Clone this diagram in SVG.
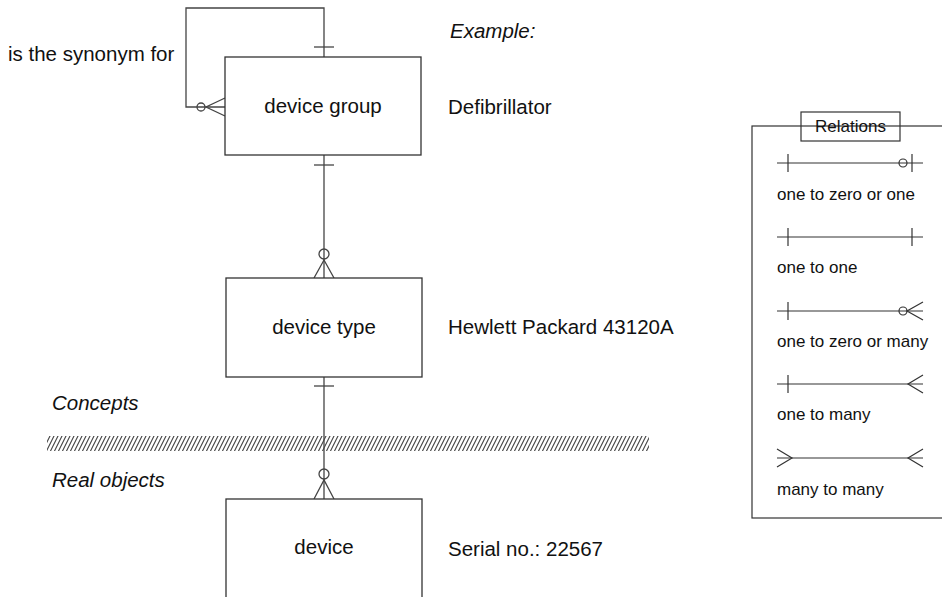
<svg xmlns="http://www.w3.org/2000/svg" width="942" height="597" viewBox="0 0 942 597">
<style>
text{font-family:"Liberation Sans",Arial,sans-serif;fill:#111}
.t{font-size:20.5px}
.c{text-anchor:middle}
.i{font-style:italic}
.lg{font-size:17px}
.box{fill:#fff;stroke:#333;stroke-width:1.3}
.ln{fill:none;stroke:#444;stroke-width:1.3}
.lgl{fill:none;stroke:#333;stroke-width:1.2}
</style>
<defs>
<pattern id="hatch" patternUnits="userSpaceOnUse" width="4" height="8">
<path d="M0,8 L4,0 M-1,2 L1,-2 M3,10 L5,6" stroke="#444" stroke-width="1.1"/>
</pattern>
</defs>
<rect width="942" height="597" fill="#fff"/>

<rect x="47" y="436" width="602" height="15" fill="url(#hatch)"/>
<text class="t i" x="52" y="410">Concepts</text>
<text class="t i" x="52" y="487">Real objects</text>

<g id="connectors">
  <!-- self loop -->
  <path class="ln" d="M324,57 V8 H186 V107 H225"/>
  <line class="ln" x1="314" y1="47" x2="334" y2="47"/>
  <circle class="ln" cx="201" cy="107" r="4" fill="#fff"/>
  <path class="ln" d="M225,98 L206,107 L225,116"/>
  <!-- group to type -->
  <line class="ln" x1="324" y1="155" x2="324" y2="278"/>
  <line class="ln" x1="314" y1="165" x2="334" y2="165"/>
  <circle class="ln" cx="324" cy="254" r="5" fill="#fff"/>
  <path class="ln" d="M314,278 L324,260 L334,278"/>
  <!-- type to device -->
  <line class="ln" x1="324" y1="377" x2="324" y2="499"/>
  <line class="ln" x1="314" y1="386" x2="334" y2="386"/>
  <circle class="ln" cx="324" cy="474" r="5" fill="#fff"/>
  <path class="ln" d="M314,499 L324,480 L334,499"/>
</g>

<g id="node-device-group">
  <rect class="box" x="225" y="57" width="196" height="98"/>
  <text class="t c" x="323" y="113">device group</text>
</g>
<g id="node-device-type">
  <rect class="box" x="226" y="278" width="196" height="99"/>
  <text class="t c" x="324" y="334">device type</text>
</g>
<g id="node-device">
  <rect class="box" x="226" y="499" width="196" height="120"/>
  <text class="t c" x="324" y="554">device</text>
</g>

<text class="t" x="8" y="61">is the synonym for</text>
<text class="t i" x="450" y="38">Example:</text>
<text class="t" x="448" y="114">Defibrillator</text>
<text class="t" x="448" y="334">Hewlett Packard 43120A</text>
<text class="t" x="448" y="556">Serial no.: 22567</text>

<g id="legend">
  <rect class="lgl" x="752" y="126" width="210" height="392" fill="#fff"/>
  <rect class="lgl" x="801" y="112" width="99" height="29" fill="#fff"/>
  <text class="lg c" x="850.5" y="132">Relations</text>

  <line class="lgl" x1="777" y1="163" x2="923" y2="163"/>
  <line class="lgl" x1="788" y1="154" x2="788" y2="172"/>
  <circle class="lgl" cx="903" cy="163" r="4" fill="#fff"/>
  <line class="lgl" x1="912" y1="154" x2="912" y2="172"/>
  <text class="lg" x="777" y="200">one to zero or one</text>

  <line class="lgl" x1="777" y1="237" x2="923" y2="237"/>
  <line class="lgl" x1="788" y1="228" x2="788" y2="246"/>
  <line class="lgl" x1="912" y1="228" x2="912" y2="246"/>
  <text class="lg" x="777" y="273">one to one</text>

  <line class="lgl" x1="777" y1="311" x2="923" y2="311"/>
  <line class="lgl" x1="788" y1="302" x2="788" y2="320"/>
  <circle class="lgl" cx="903" cy="311" r="4" fill="#fff"/>
  <path class="lgl" d="M923,302 L907,311 L923,320"/>
  <text class="lg" x="777" y="347">one to zero or many</text>

  <line class="lgl" x1="777" y1="384" x2="923" y2="384"/>
  <line class="lgl" x1="788" y1="375" x2="788" y2="393"/>
  <path class="lgl" d="M923,375 L908,384 L923,393"/>
  <text class="lg" x="777" y="420">one to many</text>

  <line class="lgl" x1="777" y1="458" x2="923" y2="458"/>
  <path class="lgl" d="M777,449 L792,458 L777,467"/>
  <path class="lgl" d="M923,449 L908,458 L923,467"/>
  <text class="lg" x="777" y="495">many to many</text>
</g>
</svg>
